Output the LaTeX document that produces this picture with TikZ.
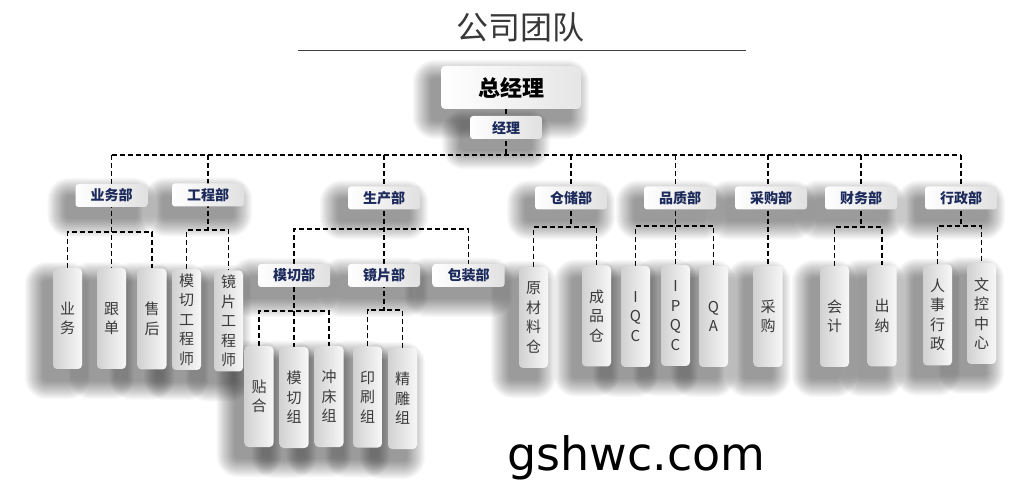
\documentclass[tikz,border=0pt]{standalone}
\usepackage{fontspec}
\setmainfont{Noto Sans CJK SC}
\newfontfamily\sitefont{DejaVu Sans}
\usetikzlibrary{calc,backgrounds}
\definecolor{navy}{HTML}{1C2A5C}
\definecolor{txtgray}{HTML}{3A3A3A}
\pgfdeclarelayer{shade}
\pgfdeclarelayer{lines}
\pgfsetlayers{background,shade,lines,main}

% soft shadow behind a node, drawn on its own layer
\newcommand\dropshade[1]{%
  \foreach \r in {0,1,...,18}
    \fill[black, opacity=0.022, rounded corners=4pt+\r pt]
      ($(#1.south west)+(-10-\r,12+\r)$) rectangle ($(#1.north east)+(-10+\r,12-\r)$);}

\begin{document}
\begin{tikzpicture}[x=1pt, y=-1pt,
  boss/.style={rounded corners=4pt, left color=white, right color=black!10, minimum width=140pt, minimum height=43pt, inner sep=0pt, font=\fontsize{22}{24}\selectfont\bfseries},
  dept/.style={rounded corners=3pt, left color=white, right color=black!12, minimum width=72pt, minimum height=23pt, inner sep=0pt, text=navy, font=\fontsize{14}{16}\selectfont\bfseries},
  postbox/.style={rounded corners=4pt, left color=black!18, right color=black!3, minimum width=29pt, minimum height=101pt, inner sep=0pt, align=center, text=txtgray, font=\fontsize{15}{19.5}\selectfont},
  link/.style={draw=black, line width=1.2pt, dash pattern=on 5pt off 3pt}]
  \useasboundingbox (0,0) rectangle (1012,502);

  % title
  \node[text=black!78] (title) at (520,27) {\fontsize{32}{34}\selectfont 公司团队};
  \draw[line width=0.8pt, black!75] (298,50) -- (746,50);

  % top
  \node[boss] (GM) at (511,87.5) {总经理};
  \node[dept] (JL) at (506,127.5) {经理};

  % departments
  \node[dept] (YW) at (111.5,195.5) {业务部};
  \node[dept] (GC) at (208,195) {工程部};
  \node[dept] (SC) at (384,198) {生产部};
  \node[dept] (CC) at (571,198) {仓储部};
  \node[dept] (PZ) at (680,198) {品质部};
  \node[dept] (CG) at (771,198) {采购部};
  \node[dept] (CW) at (861,198) {财务部};
  \node[dept] (XZ) at (961,198) {行政部};
  \node[dept] (MQ) at (294,275.5) {模切部};
  \node[dept] (JP) at (384,275.5) {镜片部};
  \node[dept] (BZ) at (468.5,275.5) {包装部};

  % posts
  \node[postbox] (YWY) at (67.5,318.5) {业\\务};
  \node[postbox] (GD) at (111.5,318.5) {跟\\单};
  \node[postbox] (SH) at (152,319) {售\\后};
  \node[postbox] (MQG) at (186.5,319.5) {模\\切\\工\\程\\师};
  \node[postbox] (JPG) at (228.5,321) {镜\\片\\工\\程\\师};
  \node[postbox] (TH) at (259,396.5) {贴\\合};
  \node[postbox] (MQZ) at (294,397.5) {模\\切\\组};
  \node[postbox] (CCZ) at (329,396.5) {冲\\床\\组};
  \node[postbox] (YS) at (367.5,397) {印\\刷\\组};
  \node[postbox] (JD) at (402.5,398.5) {精\\雕\\组};
  \node[postbox] (YC) at (533.5,317.5) {原\\材\\料\\仓};
  \node[postbox] (CP) at (596.5,316) {成\\品\\仓};
  \node[postbox] (IQC) at (635.5,316.5) {I\\Q\\C};
  \node[postbox] (IPQC) at (675.5,315.5) {I\\P\\Q\\C};
  \node[postbox] (QA) at (713.5,316.5) {Q\\A};
  \node[postbox] (CGY) at (768,316.5) {采\\购};
  \node[postbox] (KJ) at (834.5,316.5) {会\\计};
  \node[postbox] (CN) at (882,316) {出\\纳};
  \node[postbox] (RS) at (937.5,315) {人\\事\\行\\政};
  \node[postbox] (WK) at (981.5,313.5) {文\\控\\中\\心};

  \node[anchor=base west, inner sep=0pt] (site) at (507,470) {\sitefont\fontsize{46}{50}\selectfont gshwc.com};

  % bus points
  \coordinate (bus) at (506,155);
  \coordinate (ywbus) at (111.5,232);
  \coordinate (gcbus) at (208,230);
  \coordinate (scbus) at (384,229);
  \coordinate (mqbus) at (294,311);
  \coordinate (jpbus) at (384,310);
  \coordinate (ccbus) at (571,227);
  \coordinate (pzbus) at (675.5,226);
  \coordinate (cwbus) at (861,227);
  \coordinate (xzbus) at (961,226);

  \begin{pgfonlayer}{background}
    \fill[white] (0,0) rectangle (1012,502);
  \end{pgfonlayer}

  \begin{pgfonlayer}{shade}
    \foreach \n in {GM,JL,YW,GC,SC,CC,PZ,CG,CW,XZ,MQ,JP,BZ,
                    YWY,GD,SH,MQG,JPG,TH,MQZ,CCZ,YS,JD,YC,CP,IQC,IPQC,QA,CGY,KJ,CN,RS,WK}
      {\dropshade{\n}}
  \end{pgfonlayer}

  \begin{pgfonlayer}{lines}
    \draw[link] (GM.south -| JL) -- (JL |- bus);
    \draw[link] (YW |- bus) -- (XZ |- bus);
    % 业务部
    \draw[link] (YW |- bus) -- (GD.north);
    \draw[link] (YWY.north) |- (ywbus) -| (SH.north);
    % 工程部
    \draw[link] (GC |- bus) -- (gcbus);
    \draw[link] (MQG.north) |- (gcbus) -| (JPG.north);
    % 生产部
    \draw[link] (SC |- bus) -- (jpbus);
    \draw[link] (MQ.north) |- (scbus) -| (BZ.north);
    \draw[link] (MQ) -- (MQZ.north);
    \draw[link] (TH.north) |- (mqbus) -| (CCZ.north);
    \draw[link] (YS.north) |- (jpbus) -| (JD.north);
    % 仓储部
    \draw[link] (CC |- bus) -- (ccbus);
    \draw[link] (YC.north) |- (ccbus) -| (CP.north);
    % 品质部
    \draw[link] (IPQC |- bus) -- (IPQC.north);
    \draw[link] (IQC.north) |- (pzbus) -| (QA.north);
    % 采购部
    \draw[link] (CGY |- bus) -- (CGY.north);
    % 财务部
    \draw[link] (CW |- bus) -- (cwbus);
    \draw[link] (KJ.north) |- (cwbus) -| (CN.north);
    % 行政部
    \draw[link] (XZ |- bus) -- (xzbus);
    \draw[link] (RS.north) |- (xzbus) -| (WK.north);
  \end{pgfonlayer}
\end{tikzpicture}
\end{document}
